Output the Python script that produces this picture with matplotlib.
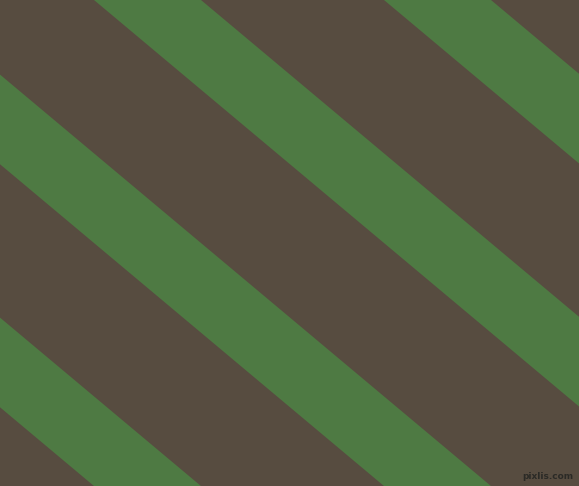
"""
plot.py - diagonal stripe pattern (brown background, green bands)
"""

import matplotlib
matplotlib.use('Agg')
import matplotlib.pyplot as plt
import numpy as np

# canvas size in pixels
width_px = 579
height_px = 486

# stripe geometry: x where each band's left edge meets y=0
stripe_offsets = [-486, -196, 94, 384]
stripe_width = 107          # horizontal width of one green band
stripe_slope = 0.838        # dy/dx of the band edges (about 40 degrees)

background_color = '#574C40'
stripe_color = '#4E7A43'
watermark_text = 'pixlis.com'


def draw_stripes(axis):
    y_edges = np.array([-20, height_px + 20])
    for offset in stripe_offsets:
        left = offset + y_edges / stripe_slope
        right = left + stripe_width
        xs = [left[0], right[0], right[1], left[1]]
        ys = [y_edges[0], y_edges[0], y_edges[1], y_edges[1]]
        axis.fill(xs, ys, color=stripe_color, linewidth=0, antialiased=True)


figure = plt.figure(figsize=(width_px / 100, height_px / 100), dpi=100)
axis = figure.add_axes([0, 0, 1, 1])
axis.set_facecolor(background_color)
figure.patch.set_facecolor(background_color)

draw_stripes(axis)

axis.text(573, 476, watermark_text, ha='right', va='center', fontsize=6.5,
          color='#2B2A26', fontweight='bold')

axis.set_xlim(0, width_px)
axis.set_ylim(height_px, 0)
axis.axis('off')

plt.savefig('out.png', dpi=100, facecolor=background_color)
plt.close(figure)
